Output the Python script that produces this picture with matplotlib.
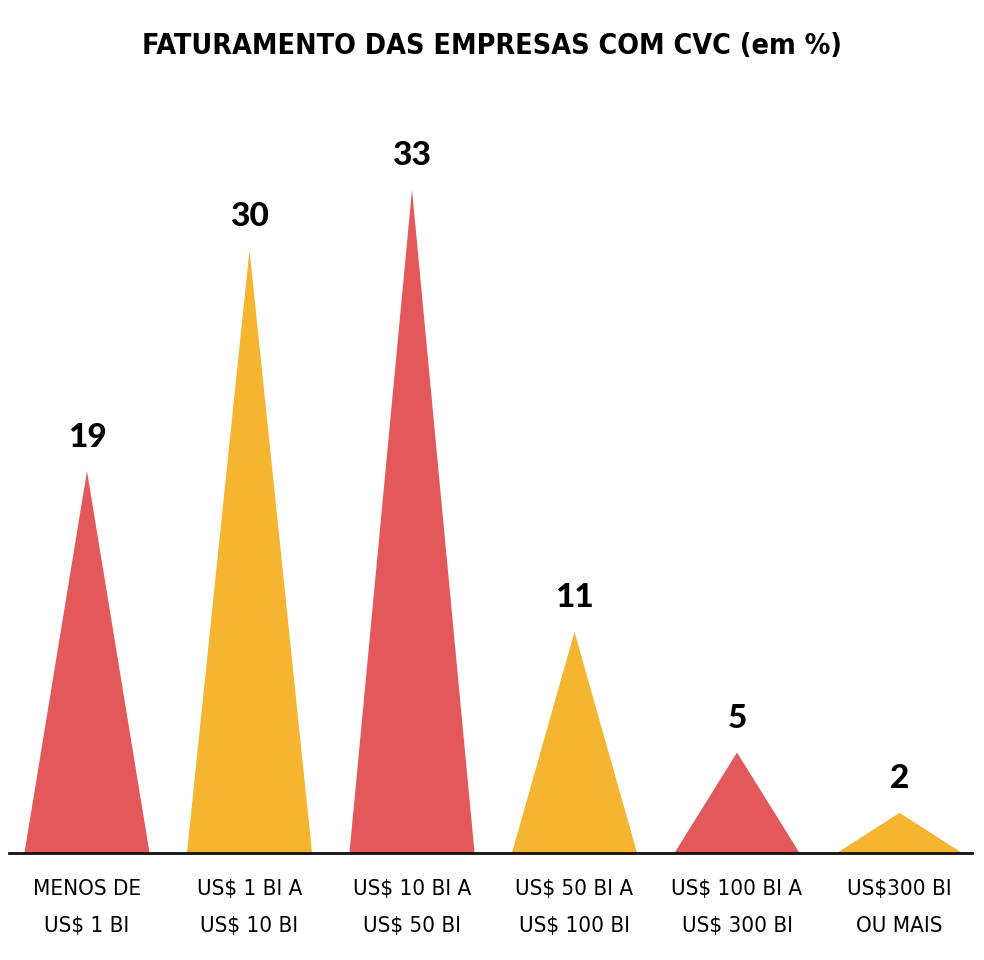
import matplotlib
matplotlib.use("Agg")
from matplotlib import pyplot as plt
from matplotlib.patches import Polygon

# Data
categories = ["MENOS DE\nUS$ 1 BI", "US$ 1 BI A\nUS$ 10 BI", "US$ 10 BI A\nUS$ 50 BI",
              "US$ 50 BI A\nUS$ 100 BI", "US$ 100 BI A\nUS$ 300 BI", "US$300 BI\nOU MAIS"]
values = [19, 30, 33, 11, 5, 2]
colors = ["#E3585B", "#F6B530", "#E3585B", "#F6B530", "#E3585B", "#F6B530"]

if __name__ == '__main__':
    fig = plt.figure(figsize=(9.84, 9.6), dpi=100)
    ax = fig.add_axes([9 / 984, 107 / 960, 963 / 984, 753 / 960])

    half = 0.385
    for i, (v, c) in enumerate(zip(values, colors)):
        tri = Polygon([(i - half, 0), (i, v), (i + half, 0)], closed=True,
                      facecolor=c, edgecolor="none")
        ax.add_patch(tri)
        ax.annotate(str(v), (i, v), xytext=(0, 14), textcoords="offset points",
                    ha="center", va="bottom", fontsize=24, fontweight="black",
                    family=["Lato", "DejaVu Sans"])

    ax.set_xlim(-0.48, 5.446)
    ax.set_ylim(0, 37.46)
    ax.set_xticks(range(len(categories)))
    ax.set_xticklabels(categories, fontsize=16, family="DejaVu Sans",
                       fontstretch="condensed", linespacing=2.05)
    ax.tick_params(axis="x", length=0, pad=19)
    ax.set_yticks([])
    for side in ["top", "left", "right"]:
        ax.spines[side].set_visible(False)
    ax.spines["bottom"].set_linewidth(2)
    ax.spines["bottom"].set_color("#111111")

    fig.text(0.5, 1 - 46 / 960, "FATURAMENTO DAS EMPRESAS COM CVC (em %)",
             ha="center", va="center", fontsize=20.5, fontweight="bold",
             family="DejaVu Sans", fontstretch="condensed")

    fig.savefig("out.png", dpi=100)
